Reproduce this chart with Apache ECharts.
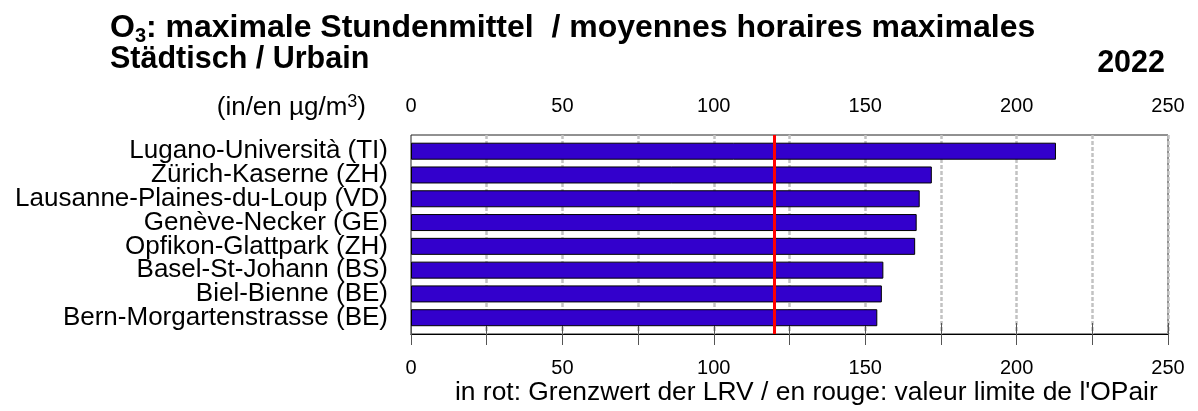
<!DOCTYPE html>
<html>
<head>
<meta charset="utf-8">
<title>O3 maximale Stundenmittel</title>
<script src="https://cdn.jsdelivr.net/npm/echarts@6/dist/echarts.min.js"></script>
<style>
  html, body { margin: 0; padding: 0; background: #fff; }
  #chart { width: 1198px; height: 411px; }
</style>
</head>
<body>
<div id="chart"></div>
<script>
const stations = [
  'Lugano-Università (TI)',
  'Zürich-Kaserne (ZH)',
  'Lausanne-Plaines-du-Loup (VD)',
  'Genève-Necker (GE)',
  'Opfikon-Glattpark (ZH)',
  'Basel-St-Johann (BS)',
  'Biel-Bienne (BE)',
  'Bern-Morgartenstrasse (BE)'
]
const maxHourly = [213, 172, 168, 167, 166.5, 156, 155.5, 154]
const limitValue = 120 // Grenzwert LRV
const axisMin = 0
const axisMax = 250
const tickStep = 25
const labelStep = 50

const font = 'Liberation Sans, Arial, sans-serif'
const plotLeft = 411
const plotWidth = 757

const tickLabel = v => (v % labelStep === 0 ? String(v) : '')

const chart = echarts.init(document.getElementById('chart'))

chart.setOption({
  animation: false,
  backgroundColor: '#fff',
  textStyle: { fontFamily: font },
  title: [{
    text: '{b|O}{s|3}{b|: maximale Stundenmittel  / moyennes horaires maximales}',
    left: 110,
    top: 10,
    padding: 0,
    textStyle: {
      rich: {
        b: { fontSize: 32, fontWeight: 'bold', color: '#000', fontFamily: font, lineHeight: 36 },
        s: { fontSize: 20, fontWeight: 'bold', color: '#000', fontFamily: font, lineHeight: 36, verticalAlign: 'bottom' }
      }
    }
  }, {
    text: 'Städtisch / Urbain',
    left: 110,
    top: 43,
    padding: 0,
    textStyle: { fontSize: 30.5, fontWeight: 'bold', color: '#000', fontFamily: font, lineHeight: 34 }
  }, {
    text: '2022',
    right: 33,
    top: 47,
    padding: 0,
    textStyle: { fontSize: 30.5, fontWeight: 'bold', color: '#000', fontFamily: font, lineHeight: 34 }
  }, {
    text: '{n|(in/en µg/m}{p|3}{n|)}',
    right: 832,
    top: 93,
    padding: 0,
    textStyle: {
      rich: {
        n: { fontSize: 26, fontWeight: 'normal', color: '#000', fontFamily: font, lineHeight: 30 },
        p: { fontSize: 18, fontWeight: 'normal', color: '#000', fontFamily: font, lineHeight: 30, verticalAlign: 'top' }
      }
    }
  }, {
    text: "in rot: Grenzwert der LRV / en rouge: valeur limite de l'OPair",
    left: 455,
    top: 378,
    padding: 0,
    textStyle: { fontSize: 26.4, fontWeight: 'normal', color: '#000', fontFamily: font, lineHeight: 30 }
  }],
  grid: [{
    // frame with both axes
    left: plotLeft,
    width: plotWidth,
    top: 135,
    height: 199,
    show: true,
    borderColor: '#222',
    borderWidth: 1,
    backgroundColor: 'transparent'
  }, {
    // bars
    left: plotLeft,
    width: plotWidth,
    top: 139.3,
    height: 190.3
  }],
  xAxis: [{
    type: 'value',
    gridIndex: 0,
    position: 'top',
    min: axisMin,
    max: axisMax,
    interval: tickStep,
    axisLine: { show: true, lineStyle: { color: '#555', width: 1 } },
    axisTick: { show: true, length: 11, lineStyle: { color: '#555', width: 1 } },
    axisLabel: { formatter: tickLabel, fontSize: 20, color: '#000', margin: 19, fontFamily: font },
    splitLine: {
      show: true,
      showMinLine: false,
      lineStyle: { color: '#c2c2c2', width: 2.5, type: [4, 2] }
    }
  }, {
    type: 'value',
    gridIndex: 0,
    position: 'bottom',
    min: axisMin,
    max: axisMax,
    interval: tickStep,
    axisLine: { show: true, lineStyle: { color: '#000', width: 1 } },
    axisTick: { show: true, length: 11, lineStyle: { color: '#555', width: 1 } },
    axisLabel: { formatter: tickLabel, fontSize: 20, color: '#000', margin: 24, fontFamily: font },
    splitLine: { show: false }
  }, {
    type: 'value',
    gridIndex: 1,
    min: axisMin,
    max: axisMax,
    show: false
  }],
  yAxis: [{
    type: 'value',
    gridIndex: 0,
    min: 0,
    max: 1,
    show: false
  }, {
    type: 'category',
    gridIndex: 1,
    inverse: true,
    data: stations,
    axisLine: { show: false },
    axisTick: { show: false },
    splitLine: { show: false },
    axisLabel: { interval: 0, fontSize: 26, color: '#000', margin: 23, fontFamily: font }
  }],
  series: [{
    name: 'max',
    type: 'bar',
    xAxisIndex: 2,
    yAxisIndex: 1,
    barWidth: 17,
    data: maxHourly,
    itemStyle: { color: '#3300cc', borderColor: '#000', borderWidth: 1 },
    silent: true
  }, {
    name: 'limit',
    type: 'line',
    xAxisIndex: 0,
    yAxisIndex: 0,
    data: [],
    z: 10,
    silent: true,
    markLine: {
      silent: true,
      symbol: 'none',
      label: { show: false },
      lineStyle: { color: '#ff0000', width: 3, type: 'solid' },
      data: [{ xAxis: limitValue }]
    }
  }]
})
</script>
</body>
</html>
